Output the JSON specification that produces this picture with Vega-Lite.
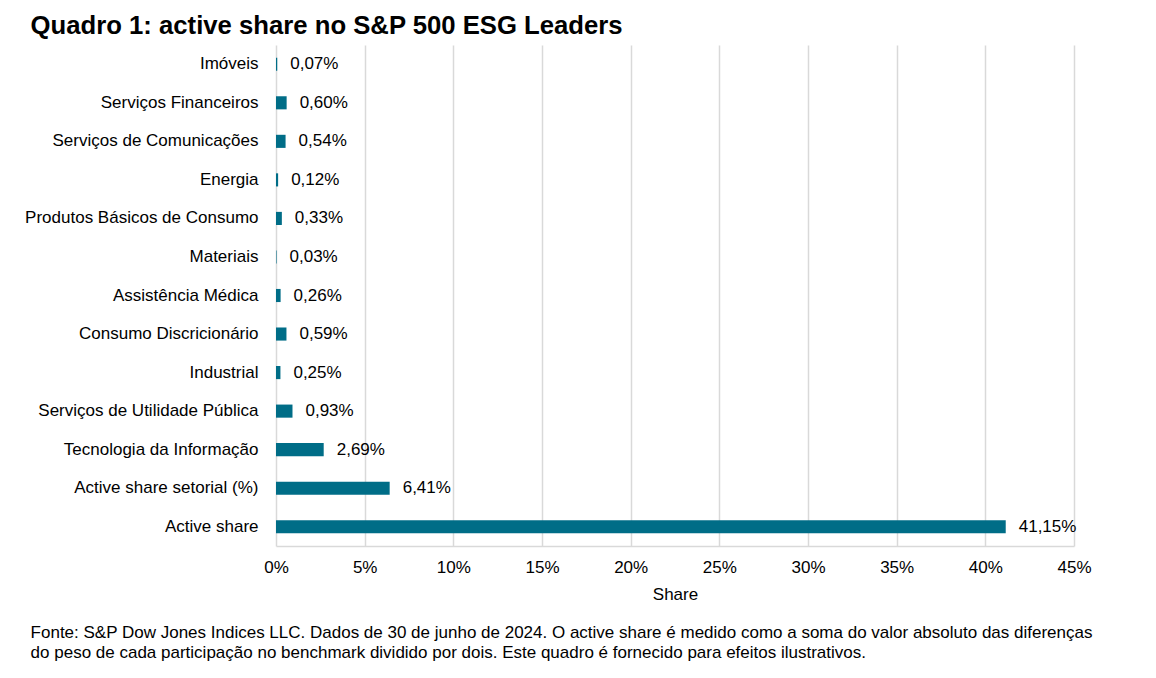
{
  "$schema": "https://vega.github.io/schema/vega-lite/v6.json",
  "padding": {"left": 24, "top": 13, "right": 20, "bottom": 10},
  "config": {
    "view": {"stroke": null},
    "font": "Liberation Sans",
    "concat": {"spacing": 0},
    "locale": {"number": {"decimal": ",", "thousands": ".", "grouping": [3], "currency": ["", " €"]}}
  },
  "title": {
    "text": "Quadro 1: active share no S&P 500 ESG Leaders",
    "anchor": "start",
    "frame": "bounds",
    "fontSize": 25.7,
    "fontWeight": "bold",
    "color": "#000000",
    "dx": 6,
    "offset": 5
  },
  "vconcat": [
    {
      "width": 798,
      "height": 501,
      "title": {
        "text": [
          "Fonte: S&P Dow Jones Indices LLC. Dados de 30 de junho de 2024. O active share é medido como a soma do valor absoluto das diferenças",
          "do peso de cada participação no benchmark dividido por dois. Este quadro é fornecido para efeitos ilustrativos."
        ],
        "orient": "bottom",
        "anchor": "start",
        "frame": "bounds",
        "fontSize": 17,
        "fontWeight": "normal",
        "color": "#000000",
        "lineHeight": 20,
        "dx": 6,
        "offset": 23
      },
      "data": {
        "values": [
          {"setor": "Imóveis", "valor": 0.0007},
          {"setor": "Serviços Financeiros", "valor": 0.006},
          {"setor": "Serviços de Comunicações", "valor": 0.0054},
          {"setor": "Energia", "valor": 0.0012},
          {"setor": "Produtos Básicos de Consumo", "valor": 0.0033},
          {"setor": "Materiais", "valor": 0.0003},
          {"setor": "Assistência Médica", "valor": 0.0026},
          {"setor": "Consumo Discricionário", "valor": 0.0059},
          {"setor": "Industrial", "valor": 0.0025},
          {"setor": "Serviços de Utilidade Pública", "valor": 0.0093},
          {"setor": "Tecnologia da Informação", "valor": 0.0269},
          {"setor": "Active share setorial (%)", "valor": 0.0641},
          {"setor": "Active share", "valor": 0.4115}
        ]
      },
      "encoding": {
        "y": {
          "field": "setor",
          "type": "nominal",
          "sort": null,
          "scale": {"paddingInner": 0.66, "paddingOuter": 0.33},
          "axis": {
            "title": null,
            "domain": false,
            "ticks": false,
            "labelFontSize": 17,
            "labelColor": "#000000",
            "labelPadding": 18,
            "labelLimit": 400
          }
        },
        "x": {
          "field": "valor",
          "type": "quantitative",
          "scale": {"domain": [0, 0.45], "nice": false},
          "axis": {
            "title": "Share",
            "titleFontSize": 17,
            "titleFontWeight": "normal",
            "titleColor": "#000000",
            "titlePadding": 11,
            "format": ".0%",
            "values": [0, 0.05, 0.1, 0.15, 0.2, 0.25, 0.3, 0.35, 0.4, 0.45],
            "labelFontSize": 17,
            "labelColor": "#000000",
            "labelPadding": 13,
            "labelFlush": false,
            "labelOverlap": false,
            "ticks": false,
            "domainColor": "#d9d9d9",
            "domainWidth": 1.5,
            "grid": true,
            "gridColor": "#d9d9d9",
            "gridWidth": 1.5
          }
        }
      },
      "layer": [
        {"mark": {"type": "bar", "color": "#006D87"}},
        {
          "mark": {"type": "text", "align": "left", "baseline": "middle", "dx": 13, "fontSize": 17, "color": "#000000"},
          "encoding": {"text": {"field": "valor", "type": "quantitative", "format": ".2%"}}
        }
      ]
    }
  ]
}
